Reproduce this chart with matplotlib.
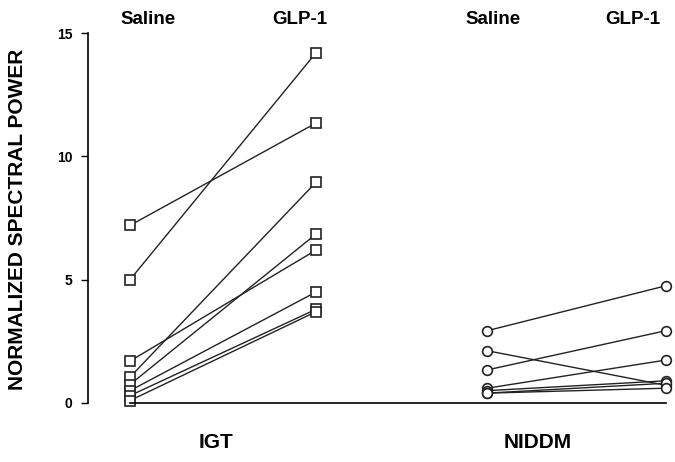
import numpy
import matplotlib
matplotlib.use('Agg')
import matplotlib.pyplot as plt

plt.rcParams['font.family'] = ['Liberation Sans', 'DejaVu Sans']
plt.rcParams['font.weight'] = 'bold'

# column positions: IGT saline, IGT GLP-1, NIDDM saline, NIDDM GLP-1
xpos = [0, 1, 1.92, 2.88]
col_labels = ['Saline', 'GLP-1', 'Saline', 'GLP-1']
group_labels = ['IGT', 'NIDDM']

# IGT subjects (squares)
igt_saline = [7.2, 5.0, 1.7, 1.05, 0.75, 0.5, 0.3, 0.1]
igt_glp1 = [11.35, 14.2, 6.2, 8.95, 6.85, 4.5, 3.8, 3.7]

# NIDDM subjects (circles)
niddm_saline = [2.93, 2.12, 1.34, 0.6, 0.5, 0.4, 0.4]
niddm_glp1 = [4.75, 0.72, 2.93, 1.74, 0.9, 0.8, 0.6]

yticks = [0, 5, 10, 15]

fig = plt.figure(figsize=(6.75, 4.62), dpi=100)
ax = fig.add_axes([88/675, 1-403/462, 1-88/675, 370/462])

for s, g in zip(igt_saline, igt_glp1):
    ax.plot([xpos[0], xpos[1]], [s, g], color='#222222', linewidth=1.0,
            marker='s', markersize=6.5, markerfacecolor='white',
            markeredgecolor='#222222', markeredgewidth=1.2, clip_on=False)

for s, g in zip(niddm_saline, niddm_glp1):
    ax.plot([xpos[2], xpos[3]], [s, g], color='#222222', linewidth=1.0,
            marker='o', markersize=7, markerfacecolor='white',
            markeredgecolor='#222222', markeredgewidth=1.2, clip_on=False)

ax.set_xlim(-0.226, 2.93)
ax.set_ylim(0, 15)
ax.set_yticks(yticks)
ax.set_yticklabels([str(t) for t in yticks], fontsize=10, fontweight='bold')
ax.tick_params(axis='y', direction='out', length=5, width=1, pad=6)
ax.set_xticks([])
ax.spines['top'].set_visible(False)
ax.spines['right'].set_visible(False)
ax.spines['left'].set_linewidth(1.2)
ax.spines['bottom'].set_linewidth(1.2)
ax.spines['bottom'].set_bounds(xpos[0], xpos[3])
ax.set_ylabel('NORMALIZED SPECTRAL POWER', fontsize=15, fontweight='bold')
ax.yaxis.set_label_coords((27-88)/587, (403-219)/370)

head_x = [148, 300, 493, 633]
for hx, lab in zip(head_x, col_labels):
    fig.text(hx/675, 1-20/462, lab, fontsize=13.5, fontweight='bold',
             ha='center', va='center')

fig.text(216/675, 1-443/462, group_labels[0], fontsize=15, fontweight='bold', ha='center', va='center')
fig.text(538/675, 1-443/462, group_labels[1], fontsize=15, fontweight='bold', ha='center', va='center')

plt.savefig('out.png', dpi=100)
